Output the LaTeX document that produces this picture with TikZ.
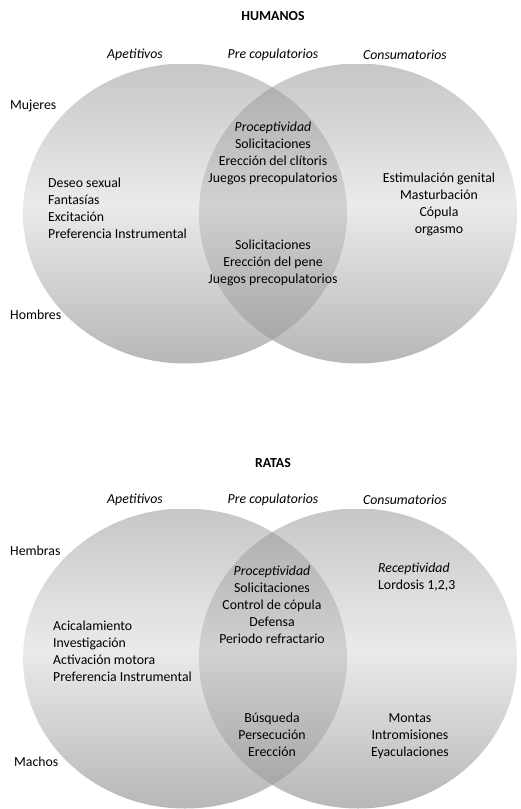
\documentclass[tikz,border=0pt]{standalone}
\usepackage{fontspec}
\setmainfont{Carlito}
\begin{document}
\begin{tikzpicture}[x=1pt,y=-1pt,
  txt/.style={inner sep=0pt, font=\fontsize{13.8}{17}\selectfont},
  blk/.style={txt, anchor=north},
  ital/.style={txt, font=\fontsize{13.8}{17}\selectfont\itshape},
  bold/.style={txt, font=\fontsize{13.8}{17}\selectfont\bfseries}]
\useasboundingbox (0,0) rectangle (520,809);
% stripes: #1 top y of circle, #2 darkness offset
\foreach \cy in {213.5,658.5} {
  \pgfmathsetmacro\ty{\cy-150}
  \begin{scope}
    \clip (185,\cy) ellipse [x radius=162pt, y radius=150pt]
          (358,\cy) ellipse [x radius=159pt, y radius=150pt];
    \foreach \i in {0,...,99} {
      \pgfmathsetmacro\t{\i/99}
      \pgfmathsetmacro\v{\t<0.47 ? 22-14*\t/0.47 : 8+20*(\t-0.47)/0.53}
      \fill[black!\v] (0,{\ty+3*\i}) rectangle (520,{\ty+3*\i+3.4});
    }
  \end{scope}
  \begin{scope}
    \clip (185,\cy) ellipse [x radius=162pt, y radius=150pt];
    \clip (358,\cy) ellipse [x radius=159pt, y radius=150pt];
    \foreach \i in {0,...,99} {
      \pgfmathsetmacro\t{\i/99}
      \pgfmathsetmacro\v{\t<0.47 ? 33-15*\t/0.47 : 18+19*(\t-0.47)/0.53}
      \fill[black!\v] (0,{\ty+3*\i}) rectangle (520,{\ty+3*\i+3.4});
    }
  \end{scope}
}
% ---------- HUMANOS ----------
\node[bold] (th) at (273,16) {HUMANOS};
\node[ital] (ha) at (135,55) {Apetitivos};
\node[ital] (hp) at (273,55) {Pre copulatorios};
\node[ital] (hc) at (405,55) {Consumatorios};
\node[txt, anchor=west] (muj) at (10,106) {Mujeres};
\node[txt, anchor=west] (hom) at (10,315) {Hombres};
\node[blk, anchor=north west, align=left] (hl) at (48,178) {Deseo sexual\\Fantasías\\Excitación\\Preferencia Instrumental};
\node[blk, align=center] (hm1) at (273,122) {\textit{Proceptividad}\\Solicitaciones\\Erección del clítoris\\Juegos precopulatorios};
\node[blk, align=center] (hm2) at (273,240) {Solicitaciones\\Erección del pene\\Juegos precopulatorios};
\node[blk, align=center] (hr) at (439,173) {Estimulación genital\\Masturbación\\Cópula\\orgasmo};
% ---------- RATAS ----------
\node[bold] (rt) at (273,463) {RATAS};
\node[ital] (ra) at (135,500) {Apetitivos};
\node[ital] (rp) at (273,500) {Pre copulatorios};
\node[ital] (rc) at (405,500) {Consumatorios};
\node[txt, anchor=west] (hem) at (10,551) {Hembras};
\node[txt, anchor=west] (mac) at (14,762) {Machos};
\node[blk, anchor=north west, align=left] (rl) at (53,621) {Acicalamiento\\Investigación\\Activación motora\\Preferencia Instrumental};
\node[blk, align=center] (rm1) at (272,566) {\textit{Proceptividad}\\Solicitaciones\\Control de cópula\\Defensa\\Periodo refractario};
\node[blk, anchor=north west, align=left] (rr1) at (378,563) {\textit{Receptividad}\\Lordosis 1,2,3};
\node[blk, align=center] (rm2) at (272,713) {Búsqueda\\Persecución\\Erección};
\node[blk, align=center] (rr2) at (410,713) {Montas\\Intromisiones\\Eyaculaciones};
\end{tikzpicture}
\end{document}
